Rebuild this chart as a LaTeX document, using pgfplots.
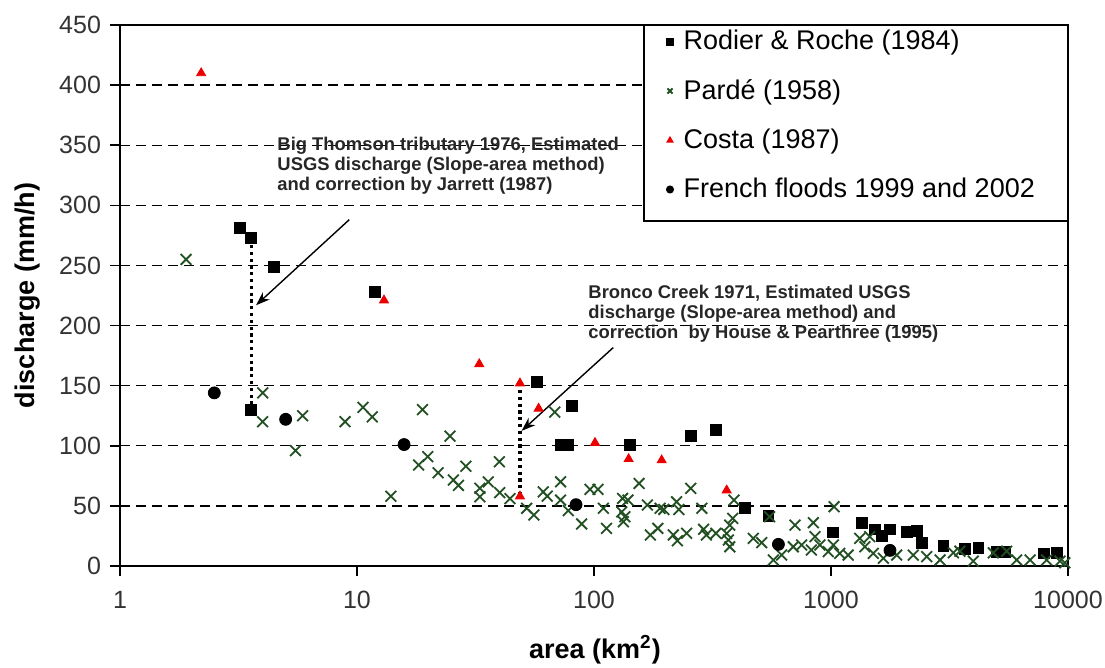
\documentclass[border=0pt]{standalone}
\usepackage{fontspec}
\setmainfont{Liberation Sans}
\usepackage{pgfplots}
\pgfplotsset{compat=1.18}
\usetikzlibrary{arrows.meta}
\definecolor{pgreen}{RGB}{35,80,35}
\definecolor{cred}{RGB}{235,0,0}
\begin{document}
\begin{tikzpicture}
\useasboundingbox (-60pt,-51pt) rectangle (492.5pt,283pt);
\begin{axis}[
  scale only axis,
  width=474pt, height=270.5pt,
  xmode=log, log basis x=10,
  xmin=1, xmax=10000, ymin=0, ymax=450,
  xtick={1,10,100,1000,10000},
  xticklabels={1,10,100,1000,10000},
  xminorticks=false,
  ytick={0,50,100,150,200,250,300,350,400,450},
  ymajorgrids,
  grid style={black, dash pattern=on 5pt off 3pt, line width=0.7pt},
  axis line style={black, line width=1pt},
  tick style={black, line width=0.8pt},
  tick align=outside, major tick length=5pt,
  xtick pos=bottom, ytick pos=left,
  /pgf/number format/assume math mode=true,
  tick label style={font=\fontsize{12.5}{14}\selectfont, text=black!80},
  xticklabel style={yshift=-4pt},
  yticklabel style={xshift=-1pt},
  xlabel={\textbf{area (km\textsuperscript{2})}},
  ylabel={\textbf{discharge (mm/h)}},
  xlabel style={font=\fontsize{13.5}{15}\selectfont, at={(axis description cs:0.501,-0.155)}, anchor=center},
  ylabel style={font=\fontsize{13.5}{15}\selectfont, at={(axis description cs:-0.097,0.5)}, anchor=center, rotate=0},
  legend cell align=left,
  legend image post style={mark size=1.8pt},
  legend style={at={(1,1)}, anchor=north east, draw=none, fill=none,
    font=\fontsize{13.5}{15}\selectfont, row sep=11.3pt, column sep=4pt,
    inner xsep=8pt, inner ysep=1.5pt, nodes={inner sep=1pt}},
]
% legend frame (opaque box behind the legend entries)
\fill[white] (rel axis cs:0.5527,0.6377) rectangle (rel axis cs:1,1);
\draw[black, line width=0.7pt] (rel axis cs:0.5527,0.6377) rectangle (rel axis cs:1,1);

% dotted correction lines
\addplot[forget plot, black, line width=1.6pt, dash pattern=on 1.6pt off 1.8pt] coordinates {(3.58,272.6) (3.58,130)};
\addplot[forget plot, black, line width=1.6pt, dash pattern=on 1.6pt off 1.8pt] coordinates {(48.7,152) (48.7,58)};

\addplot[only marks, mark=square*, mark size=2.7pt, black] table {
x y
3.2 281
3.58 272.6
4.47 249
11.9 228
3.58 130
57.3 153
80.7 133
72.3 101
77.9 101
142 101
256 108
327 113
432 48
544 42
1017 28
1350 36
1534 30.5
1636 25
1774 30.5
2085 28.5
2300 29.3
2414 19
2978 17
3675 14
4186 15
5003 12
5420 12
7920 10.5
8960 11
};
\addlegendentry{\makebox[183pt][l]{Rodier \& Roche (1984)}}

\addplot[only marks, mark=x, mark size=3.8pt, pgreen, mark options={line width=0.9pt}] table {
x y
1.9 255
4.0 144
4.0 120
5.9 125
5.5 96
8.9 120
10.6 132
11.6 124
18.9 130
24.7 108
18.2 84
19.9 91
22.0 77.5
28.8 83
25.5 71.5
26.8 67
13.9 58
33 64.6
33 57.6
35.8 70
39.9 86.7
40 61
44.2 56
52 48
55.8 42.4
61.1 61.7
63.5 58.2
68.3 128
72.3 70
72.3 54.8
77.9 46
88.7 35
96.2 63.7
104 63.7
109.5 48
113 31.3
132 56.2
139 54.8
131 45
135 41
133 36.8
155 68.7
168 50.7
173 25.8
190 48
197 47
186 31.3
223 53.4
228 47
216 25.8
225 21
246 27.2
256 64.6
285 48
290 30.5
298 25.8
327 27.2
363 27
374 34
385 39.6
369 21.6
374 16
390 54.8
470 23
510 19.4
551 41
571 5
619 9.1
705 34
842 36
693 16
752 17.5
827 13.3
856 24.4
898 17.5
974 11.9
1023 17.5
1030 49.3
1088 10.5
1182 9.1
1322 23
1457 24.4
1389 16
1509 10.5
1664 6.4
1893 9.1
2224 9.1
2535 7.8
2884 5
3282 11
3500 12.3
3985 4
4838 11
5512 12.3
6076 5
6918 5
8130 5
9250 4
9710 2.7
};
\addlegendentry{Pardé (1958)}

\addplot[only marks, mark=triangle*, mark size=2.6pt, cred] table {
x y
2.2 410
13 221
32.8 168
48.7 152
48.7 58
58.4 131
101 102.5
140 89
193 88
363 63
};
\addlegendentry{Costa (1987)}

\addplot[only marks, mark=*, mark size=3pt, black] table {
x y
2.5 144
5 122
15.8 101
84 51
600 18
1774 13
};
\addlegendentry{French floods 1999 and 2002}

\draw[black, line width=0.7pt, -{Stealth[length=7pt,width=5pt]}] (axis cs:9.28,288.1) -- (axis cs:3.75,216.9);
\draw[black, line width=0.7pt, -{Stealth[length=7pt,width=5pt]}] (axis cs:120.6,181.7) -- (axis cs:49.5,112.4);

\node[anchor=north west, align=left, font=\fontsize{9.2}{10}\selectfont\bfseries, text=black!85, inner sep=0pt]
  at (axis cs:4.6,357) {Big Thomson tributary 1976, Estimated\\USGS discharge (Slope-area method)\\and correction by Jarrett (1987)};
\node[anchor=north west, align=left, font=\fontsize{9.2}{10}\selectfont\bfseries, text=black!85, inner sep=0pt]
  at (axis cs:94.4,234) {Bronco Creek 1971, Estimated USGS\\discharge (Slope-area method) and\\correction\ \ by House \& Pearthree (1995)};
\end{axis}
\end{tikzpicture}
\end{document}
